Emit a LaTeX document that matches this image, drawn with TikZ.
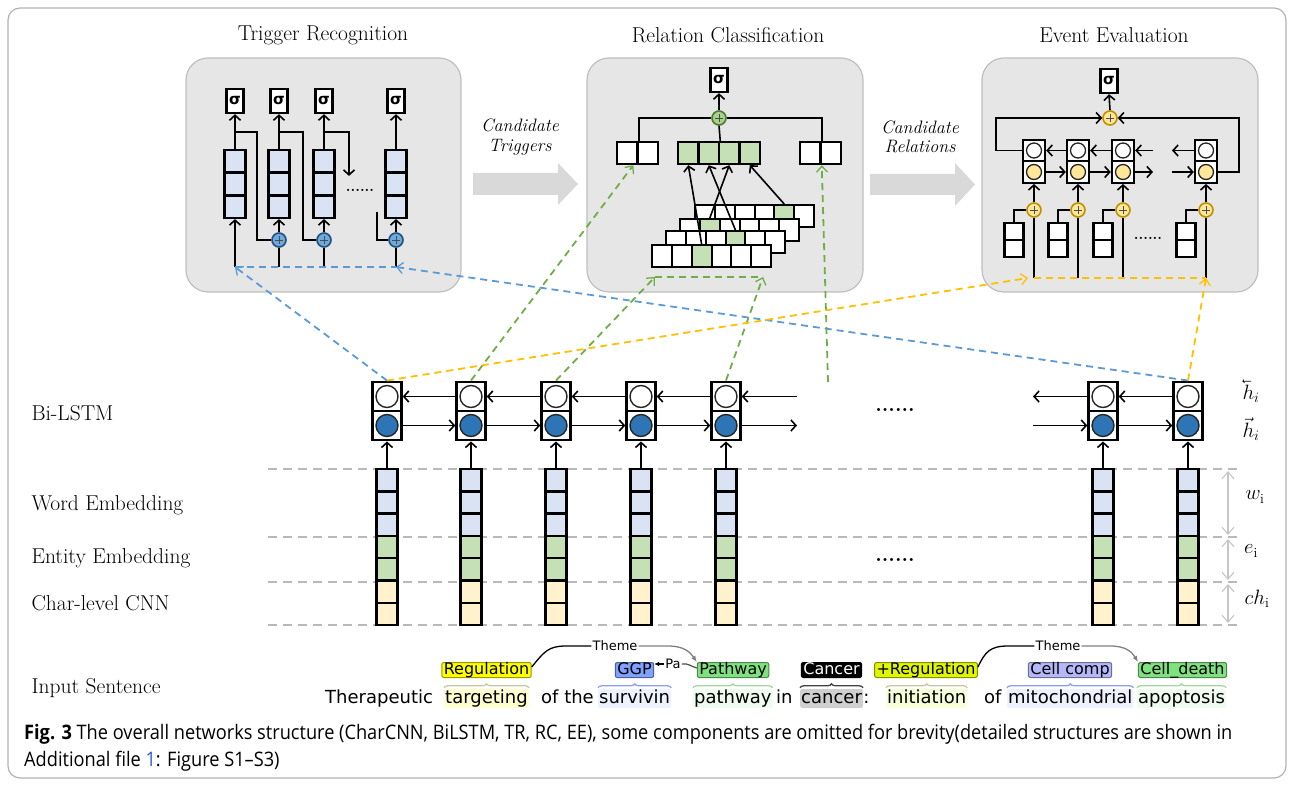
\documentclass[tikz,border=0pt]{standalone}
\usepackage{fontspec}
\usetikzlibrary{arrows.meta,decorations.pathreplacing}
\newfontfamily\sentfont{DejaVu Sans}
\newfontfamily\capfont[FakeStretch=0.91]{Open Sans}
\definecolor{panelgray}{HTML}{E6E6E6}
\definecolor{wordblue}{HTML}{DAE3F3}
\definecolor{entgreen}{HTML}{C5E0B4}
\definecolor{charyel}{HTML}{FFF2CC}
\definecolor{lstmblue}{HTML}{2E75B6}
\definecolor{dashblue}{HTML}{5B9BD5}
\definecolor{dashgreen}{HTML}{70AD47}
\definecolor{dashyel}{HTML}{FFC000}
\definecolor{plusblue}{HTML}{6FA8DC}
\definecolor{plusgreen}{HTML}{A9D18E}
\definecolor{plusyel}{HTML}{FFE699}
\definecolor{ringgold}{HTML}{BF9000}
\definecolor{arrowgray}{HTML}{D9D9D9}
\definecolor{tagyel}{HTML}{FFFF00}
\definecolor{tagblue}{HTML}{7FA2FF}
\definecolor{taggreen}{HTML}{7FE27F}
\definecolor{tagyg}{HTML}{E0F500}
\definecolor{tagpur}{HTML}{B4B8F8}
\definecolor{hlyel}{HTML}{FFFFD0}
\definecolor{hlyg}{HTML}{F6FFD8}
\definecolor{hlblue}{HTML}{EEF1FF}
\definecolor{hlgreen}{HTML}{EEFBEE}
\definecolor{hlgray}{HTML}{CFCFCF}
\definecolor{bryel}{HTML}{C8C8A0}
\definecolor{brblue}{HTML}{8CA0F0}
\definecolor{brgreen}{HTML}{A0D8A0}
\definecolor{capblue}{HTML}{2F5BD8}
\tikzset{
  ln/.style={line width=1.6pt},
  arr/.style={line width=1.6pt,-{Straight Barb[length=5pt,width=11pt]}},
  dshl/.style={line width=1.8pt,dash pattern=on 7pt off 5pt},
  dsh/.style={dshl,-{Straight Barb[length=6pt,width=11pt,line width=1.3pt]}},
  guide/.style={gray!55,line width=1.5pt,dash pattern=on 9pt off 6pt},
  dimarr/.style={gray!45,line width=1.1pt,{Straight Barb[length=7pt,width=12pt]}-{Straight Barb[length=7pt,width=12pt]},shorten <=2pt,shorten >=2pt},
  panel/.style={fill=panelgray,draw=gray!50,line width=1.2pt,rounded corners=22pt},
  title/.style={font=\fontsize{21.5}{25}\selectfont},
  lbl/.style={anchor=west,font=\fontsize{21.5}{25}\selectfont},
  mlbl/.style={inner sep=0pt,font=\fontsize{20}{24}\selectfont},
  cand/.style={align=center,font=\itshape\fontsize{18}{19.5}\selectfont},
  sigbox/.style={draw,line width=2.4pt,fill=white,minimum width=17pt,minimum height=24pt,inner sep=0pt,font=\sentfont\bfseries\fontsize{15}{15}\selectfont},
  ecell/.style={draw,line width=2.4pt,minimum width=21pt,minimum height=22.3pt,inner sep=0pt},
  half/.style={draw,line width=2.4pt,fill=white,minimum width=29pt,minimum height=29.5pt,inner sep=0pt},
  dot/.style={circle,draw=black!85,line width=1.4pt,minimum size=22pt,inner sep=0pt},
  plus/.style={circle,draw,line width=1.6pt,minimum size=14pt,inner sep=0pt,
    path picture={\draw[line width=0.9pt,black!70]
      ([xshift=-4pt]path picture bounding box.center) -- ([xshift=4pt]path picture bounding box.center)
      ([yshift=-4pt]path picture bounding box.center) -- ([yshift=4pt]path picture bounding box.center);}},
  rcell/.style={draw,line width=2.4pt,fill=white,minimum width=20.5pt,minimum height=22pt,inner sep=0pt},
  fmcell/.style={draw,line width=2pt,fill=white,minimum width=19.8pt,minimum height=22pt,inner sep=0pt},
  ehalf/.style={draw,line width=2.4pt,fill=white,minimum width=22pt,minimum height=21.5pt,inner sep=0pt},
  edot/.style={circle,draw=black!85,line width=1.3pt,minimum size=15pt,inner sep=0pt},
  abox/.style={draw,line width=2.2pt,fill=white,minimum width=19pt,minimum height=17pt,inner sep=0pt},
  dots/.style={font=\bfseries\fontsize{15}{15}\selectfont},
  word/.style={anchor=base west,font=\sentfont\fontsize{18}{20}\selectfont,inner sep=1pt,text height=13pt,text depth=4pt,rounded corners=2pt},
  tag/.style={draw,font=\sentfont\fontsize{16}{16}\selectfont,inner xsep=2pt,inner ysep=0pt,text height=11.5pt,text depth=3.5pt,rounded corners=2pt,line width=1pt},
  tbrace/.style={decorate,decoration={brace,amplitude=4pt},line width=1.3pt},
  rel/.style={font=\sentfont\fontsize{13}{13}\selectfont,inner sep=1pt},
  capt/.style={anchor=base west,font=\capfont\fontsize{20}{24}\selectfont,inner sep=0pt}
}
\begin{document}
\begin{tikzpicture}[x=1pt,y=-1pt]
\useasboundingbox (0,0) rectangle (1294,786);
\draw[gray!60,line width=1.2pt,rounded corners=12pt] (8,8) rectangle (1286,778);
\draw[panel] (186,58) rectangle (461,292);
\draw[panel] (587,58) rectangle (863,292);
\draw[panel] (982,58) rectangle (1258,292);
\node[title] (tr) at (323,35) {Trigger Recognition};
\node[title] (rc) at (728,35) {Relation Classification};
\node[title] (ee) at (1114,35) {Event Evaluation};
\fill[arrowgray] (473,173) -- (558,173) -- (558,163) -- (578,184) -- (558,205) -- (558,195) -- (473,195) -- cycle;
\fill[arrowgray] (870,174) -- (955,174) -- (955,163) -- (975,184.5) -- (955,206) -- (955,195) -- (870,195) -- cycle;
\node[cand] (ct) at (520,137) {Candidate\\Triggers};
\node[cand] (cr) at (920,137) {Candidate\\Relations};
% trigger recognition
\foreach \i/\x in {1/235,2/279,3/324,4/396}{
  \node[sigbox] (s\i) at (\x,101) {σ};
  \foreach \j/\y in {1/161.3,2/184,3/206.7}
    \node[ecell,fill=wordblue] (tc\i-\j) at (\x,\y) {};
  \draw[arr] (tc\i-1.north) -- (s\i.south);
  \coordinate (in\i) at (\x,267);
}
\draw[arr] (in1) -- (tc1-3.south);
\foreach \i/\x in {2/279,3/324,4/396}{
  \node[plus,fill=plusblue,draw=lstmblue!70!black] (p\i) at (\x,240) {};
  \draw[ln] (in\i) -- (p\i.south);
  \draw[arr] (p\i.north) -- (tc\i-3.south);
}
\draw[ln] ([yshift=17pt]tc1-1.north) -- ++(22,0) |- (p2.west);
\draw[ln] ([yshift=17pt]tc2-1.north) -- ++(24,0) |- (p3.west);
\draw[arr] ([yshift=17pt]tc3-1.north) -| ++(25,44);
\coordinate (f4) at (377,212);
\draw[ln] (f4) |- (p4.west);
\node[dots] (d1) at (360,190) {......};
\draw[dshl,dashblue] (in1) -- (in4);
% relation classification
\node[sigbox] (s5) at (719,80) {σ};
\node[plus,fill=plusgreen,draw=dashgreen!70!black] (g) at (719,118) {};
\foreach \j/\x in {1/627.3,2/647.8} \node[rcell] (l\j) at (\x,153) {};
\foreach \j/\x in {1/688.3,2/708.8,3/729.3,4/749.8} \node[rcell,fill=entgreen] (m\j) at (\x,153) {};
\foreach \j/\x in {1/810.3,2/830.8} \node[rcell] (r\j) at (\x,153) {};
\draw[ln] (l1.north east) |- (g.west);
\draw[ln] (r1.north east) |- (g.east);
\draw[ln] (m2.north east) -- (g.south);
\draw[arr] (g.north) -- (s5.south);
\foreach \k/\x/\y/\g in {1/705/216/5,2/690/230/2,3/676/242/4,4/662/256/3}{
  \foreach \j in {1,...,6} \node[fmcell] (fm\k-\j) at ({\x+19.8*(\j-1)},\y) {};
  \node[fmcell,fill=entgreen] (fg\k) at (fm\k-\g) {};
}
\draw[arr] (fg4.north) -- (m1.south);
\draw[arr] (fg3.north) -- (m2.south);
\draw[arr] (fg2.north) -- (m3.south);
\draw[arr] (fg1.north) -- (m4.south);
\coordinate (ga) at (655,277);
\coordinate (gb) at (763,277);
\coordinate (gv) at (828,382);
\draw[dshl,dashgreen] (ga) -- (gb);
% event evaluation
\node[sigbox] (s6) at (1109,81) {σ};
\node[plus,fill=plusyel,draw=ringgold] (q) at (1110,118) {};
\draw[arr] (q.north) -- (s6.south);
\foreach \i/\x in {1/1034,2/1078,3/1123,4/1206}{
  \node[ehalf] (u\i) at (\x,150.5) {};
  \node[ehalf] (v\i) at (\x,172) {};
  \node[edot,fill=white] (uc\i) at (u\i) {};
  \node[edot,fill=plusyel] (vc\i) at (v\i) {};
  \node[plus,fill=plusyel,draw=ringgold] (o\i) at (\x,210) {};
  \node[abox] (a\i-1) at ({\x-20},231.5) {};
  \node[abox] (a\i-2) at ({\x-20},248.5) {};
  \coordinate (bot\i) at (\x,278);
  \draw[ln] (a\i-1.north) |- (o\i.west);
  \draw[ln] (bot\i) -- (o\i.south);
  \draw[arr] (o\i.north) -- (v\i.south);
}
\coordinate (eu) at (1153,150.5);
\coordinate (ew) at (1172,150.5);
\coordinate (ev) at (1153,172);
\coordinate (ex) at (1172,172);
\draw[arr] (u2.west) -- (u1.east);
\draw[arr] (u3.west) -- (u2.east);
\draw[arr] (eu) -- (u3.east);
\draw[arr] (u4.west) -- (ew);
\draw[arr] (v1.east) -- (v2.west);
\draw[arr] (v2.east) -- (v3.west);
\draw[arr] (v3.east) -- (ev);
\draw[arr] (ex) -- (v4.west);
\draw[arr] (u1.west) -- ++(-26,0) |- (q.west);
\draw[arr] (v4.east) -- ++(21,0) |- (q.east);
\node[dots] (d2) at (1148,238) {......};
\draw[dshl,dashyel] (bot1) -- (bot4);
% embeddings and bi-lstm
\foreach \y in {469,537,582,625} \draw[guide] (268,\y) -- (1240,\y);
\foreach \i/\x in {1/387,2/471,3/556,4/641,5/726,6/1103,7/1188}{
  \node[half] (bt\i) at (\x,396.5) {};
  \node[half] (bb\i) at (\x,425.5) {};
  \node[dot,fill=white] (ct\i) at (bt\i) {};
  \node[dot,fill=lstmblue] (cb\i) at (bb\i) {};
  \foreach \j/\y/\col in {1/480.2/wordblue,2/502.5/wordblue,3/524.8/wordblue,4/547.1/entgreen,5/569.4/entgreen,6/591.7/charyel,7/614/charyel}
    \node[ecell,fill=\col] (e\i-\j) at (\x,\y) {};
  \draw[arr] (e\i-1.north) -- (bb\i.south);
}
\foreach \i/\j in {1/2,2/3,3/4,4/5,6/7}{
  \draw[arr] (bt\j.west) -- (bt\i.east);
  \draw[arr] (bb\i.east) -- (bb\j.west);
}
\coordinate (hr1) at (797,396.5);
\coordinate (hr2) at (797,425.5);
\coordinate (hl1) at (1033,396.5);
\coordinate (hl2) at (1033,425.5);
\draw[arr] (hr1) -- (bt5.east);
\draw[arr] (bb5.east) -- (hr2);
\draw[arr] (bt6.west) -- (hl1);
\draw[arr] (hl2) -- (bb6.west);
\node[dots,font=\bfseries\fontsize{21}{21}\selectfont] (d3) at (895,410) {......};
\node[dots,font=\bfseries\fontsize{21}{21}\selectfont] (d4) at (895,560) {......};
\draw[dsh,dashblue] (bt1.north) -- (in1);
\draw[dsh,dashblue] (bt7.north) -- (in4);
\draw[dsh,dashgreen] (bt2.north) -- ([xshift=6pt]l1.south);
\draw[dsh,dashgreen] (bt3.north) -- (ga);
\draw[dsh,dashgreen] (bt5.north) -- (gb);
\draw[dsh,dashgreen] (gv) -- (r1.south east);
\draw[dsh,dashyel] (bt1.north) -- ([xshift=-6pt]bot1);
\draw[dsh,dashyel] (bt7.north) -- (bot4);
\node[mlbl] (hb) at (1251,391) {$\reflectbox{$\vec{\reflectbox{$h$}}$}_i$};
\node[mlbl] (hf) at (1251,429) {$\vec{h}_i$};
\coordinate (k1) at (1228,469);
\coordinate (k2) at (1228,537);
\coordinate (k3) at (1228,582);
\coordinate (k4) at (1228,625);
\draw[dimarr] (k1) -- (k2);
\draw[dimarr] (k2) -- (k3);
\draw[dimarr] (k3) -- (k4);
\node[mlbl] (wi) at (1255,497) {$w_{\mathrm{i}}$};
\node[mlbl] (ei) at (1251,551) {$e_{\mathrm{i}}$};
\node[mlbl] (chi) at (1257,599) {$ch_{\mathrm{i}}$};
\node[lbl] (lb1) at (28,413) {Bi-LSTM};
\node[lbl] (lb2) at (28,505) {Word Embedding};
\node[lbl] (lb3) at (28,558) {Entity Embedding};
\node[lbl] (lb4) at (28,603) {Char-level CNN};
\node[lbl] (lb5) at (28,688) {Input Sentence};
% input sentence
\node[word] (w1) at (324,703) {Therapeutic};
\node[word,fill=hlyel] (w2) at (444,703) {targeting};
\node[word] (w3) at (540,703) {of the};
\node[word,fill=hlblue] (w4) at (598,703) {survivin};
\node[word,fill=hlgreen] (w5) at (693,703) {pathway};
\node[word] (w6) at (775,703) {in};
\node[word,fill=hlgray] (w7) at (800,703) {cancer};
\node[word,inner xsep=0pt] (w8) at (w7.base east) {:};
\node[word,fill=hlyg] (w9) at (886,703) {initiation};
\node[word] (w10) at (983,703) {of};
\node[word,fill=hlblue] (w11) at (1007,703) {mitochondrial};
\node[word,fill=hlgreen] (w12) at (1137,703) {apoptosis};
\foreach \w/\col in {w2/bryel,w4/brblue,w5/brgreen,w7/black!75,w9/bryel,w11/brblue,w12/brgreen}
  \draw[tbrace,\col] ([yshift=1pt]\w.north west) -- ([yshift=1pt]\w.north east);
\node[tag,fill=tagyel,draw=tagyel!60!black] (t1) at (486.5,670) {Regulation};
\node[tag,fill=tagblue,draw=tagblue!60!black] (t2) at (634.5,670) {GGP};
\node[tag,fill=taggreen,draw=taggreen!60!black] (t3) at (733,670) {Pathway};
\node[tag,fill=black,text=white] (t4) at (831.5,670) {Cancer};
\node[tag,fill=tagyg,draw=tagyg!60!black] (t5) at (926,670) {+Regulation};
\node[tag,fill=tagpur,draw=tagpur!60!black] (t6) at (1070,670) {Cell comp};
\node[tag,fill=taggreen,draw=taggreen!60!black] (t7) at (1182.5,670) {Cell\_death};
\node[rel] (th1) at (615,646) {Theme};
\node[rel] (pa) at (673,664) {Pa};
\node[rel] (th2) at (1058,646) {Theme};
\draw[line width=1.3pt] ([yshift=3pt]t1.east) .. controls (544,652) and (548,646) .. (566,646) -- (th1.west);
\draw[line width=1.3pt,gray,-{Latex[length=6pt,width=5pt]}] (th1.east) -- (668,646) .. controls (684,646) and (690,652) .. (t3.north west);
\draw[line width=1.2pt,gray!60!black] ([yshift=2pt]t3.west) .. controls (690,666) and (688,663) .. (pa.east);
\draw[line width=1.2pt,-{Latex[length=5pt,width=5pt]}] (pa.west) -- (t2.east |- pa.west);
\draw[line width=1.3pt] ([yshift=3pt]t5.east) .. controls (985,652) and (990,646) .. (1008,646) -- (th2.west);
\draw[line width=1.3pt,gray,-{Latex[length=6pt,width=5pt]}] (th2.east) -- (1110,646) .. controls (1126,646) and (1132,652) .. (t7.north west);
% caption
\node[capt] (cap1) at (24,739) {\textbf{Fig. 3} The overall networks structure (CharCNN, BiLSTM, TR, RC, EE), some components are omitted for brevity(detailed structures are shown in};
\node[capt] (cap2) at (24,766) {Additional file \textcolor{capblue}{1}: Figure S1–S3)};
\end{tikzpicture}
\end{document}
